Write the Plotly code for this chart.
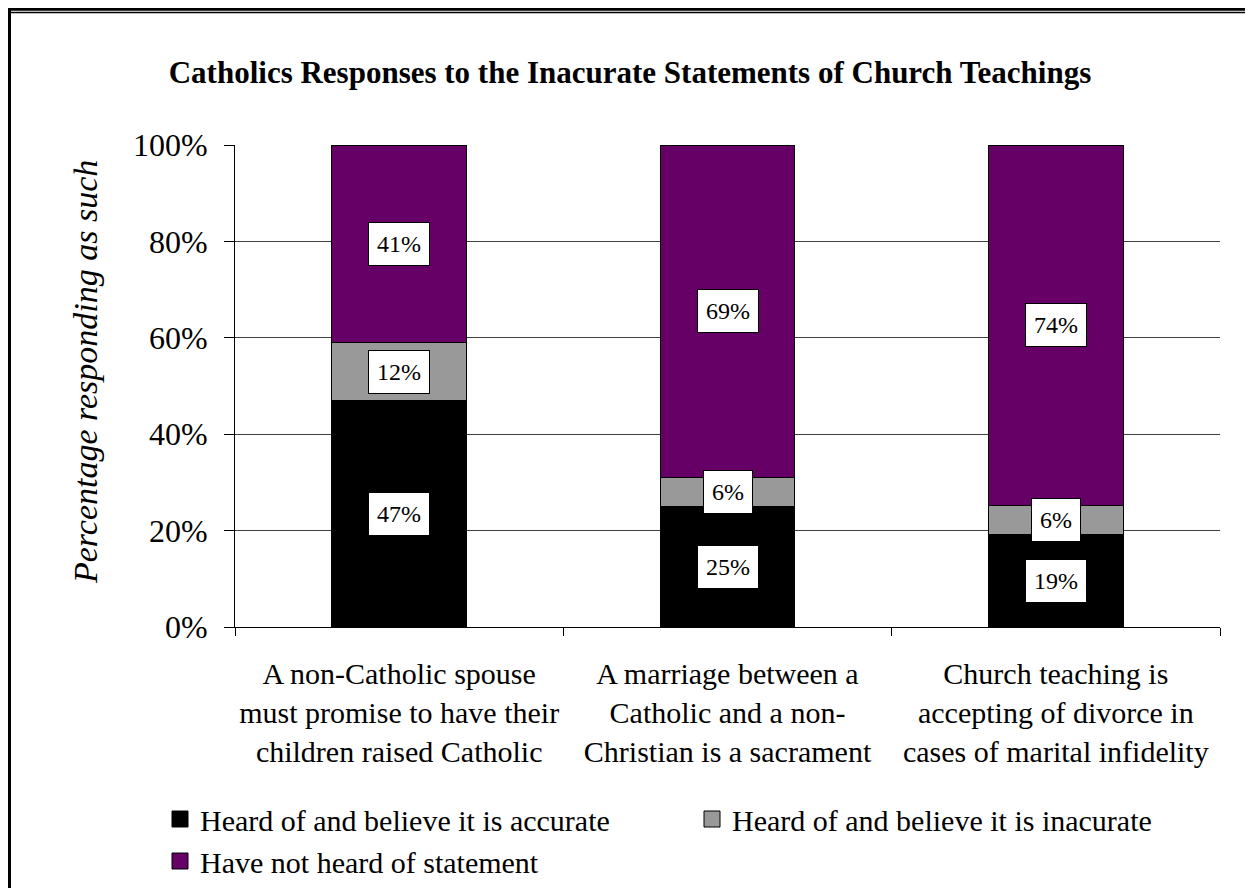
import plotly.graph_objects as go

# data
categories = [
    "A non-Catholic spouse<br>must promise to have their<br>children raised Catholic",
    "A marriage between a<br>Catholic and a non-<br>Christian is a sacrament",
    "Church teaching is<br>accepting of divorce in<br>cases of marital infidelity",
]
accurate = [47, 25, 19]
inaccurate = [12, 6, 6]
not_heard = [41, 69, 74]

series_names = [
    "Heard of and believe it is accurate",
    "Heard of and believe it is inacurate",
    "Have not heard of statement",
]
colors = ["#000000", "#999999", "#660066"]

# page draws the figure 8px in from the corner, so targets are shifted by OFF
OFF = 8
W, H = 1253, 888
L, R, T, B = 235 - OFF, W - (1220 - OFF), 145 - OFF, H - (627 - OFF)
pw, ph = W - L - R, H - T - B

def px_x(px):
    return (px - OFF - L) / pw

def px_y(py):
    return (H - B - (py - OFF)) / ph

FONT = "Liberation Serif"

fig = go.Figure()
all_series = [accurate, inaccurate, not_heard]
for name, vals, col in zip(series_names, all_series, colors):
    fig.add_trace(go.Bar(x=categories, y=vals, name=name, showlegend=False,
                         marker=dict(color=col, line=dict(color="black", width=1))))
    # legend entry with a bigger square
    fig.add_trace(go.Scatter(x=[None], y=[None], mode="markers", name=name,
                             marker=dict(symbol="square", size=20, color=col,
                                         line=dict(color="black", width=1))))

fig.update_layout(barmode="stack", barnorm="percent", bargap=0.59)

# white boxed labels at segment centres
for i, cat in enumerate(categories):
    tot = accurate[i] + inaccurate[i] + not_heard[i]
    base = 0
    for vals in all_series:
        v = vals[i] * 100 / tot
        fig.add_annotation(x=cat, y=base + v / 2, text=f"{vals[i]}%", showarrow=False,
                           font=dict(family=FONT, size=24, color="black"),
                           bgcolor="white", bordercolor="black", borderwidth=1, borderpad=8)
        base += v

# y axis title as a rotated annotation (sits a bit above the plot centre)
fig.add_annotation(text="<i>Percentage responding as such</i>", textangle=-90,
                   xref="paper", yref="paper", x=px_x(85), y=px_y(372),
                   xanchor="center", yanchor="middle", showarrow=False,
                   font=dict(family=FONT, size=34, color="black"))

# frame: thick line on the left, double line along the top
frame = [
    (9, 7, 9, 900, 4),
    (7, 9.3, 1270, 9.3, 3),
    (11, 12.5, 1270, 12.5, 1.5),
]
for x0, y0, x1, y1, w in frame:
    fig.add_shape(type="line", xref="paper", yref="paper",
                  x0=px_x(x0), x1=px_x(x1), y0=px_y(y0), y1=px_y(y1),
                  line=dict(color="black", width=w), layer="below")

fig.update_layout(
    width=W, height=H,
    margin=dict(l=L, r=R, t=T, b=B, autoexpand=False),
    paper_bgcolor="white", plot_bgcolor="white",
    font=dict(family=FONT, color="black"),
    title=dict(text="<b>Catholics Responses to the Inacurate Statements of Church Teachings</b>",
               x=(630 - OFF) / W, xref="container", xanchor="center",
               y=1 - (72 - OFF) / H, yanchor="middle",
               font=dict(family=FONT, size=31, color="black")),
    legend=dict(orientation="h", x=px_x(160), y=px_y(793), xanchor="left", yanchor="top",
                entrywidth=487, traceorder="normal",
                font=dict(family=FONT, size=30, color="black"),
                itemsizing="trace", tracegroupgap=0),
)
fig.update_yaxes(range=[0, 100], dtick=20, ticksuffix="%", ticks="outside", ticklen=10,
                 tickcolor="black", showline=True, linecolor="black", linewidth=1,
                 showgrid=True, gridcolor="#404040", gridwidth=1, zeroline=False,
                 automargin=False,
                 tickfont=dict(family=FONT, size=32, color="black"), ticklabelstandoff=10)
fig.update_xaxes(type="category", tickson="boundaries", ticks="outside", ticklen=8,
                 tickcolor="black", showline=True, linecolor="black", linewidth=1,
                 automargin=False, tickangle=0,
                 tickfont=dict(family=FONT, size=30, color="black"), ticklabelstandoff=20)

fig.write_html("out.html")
